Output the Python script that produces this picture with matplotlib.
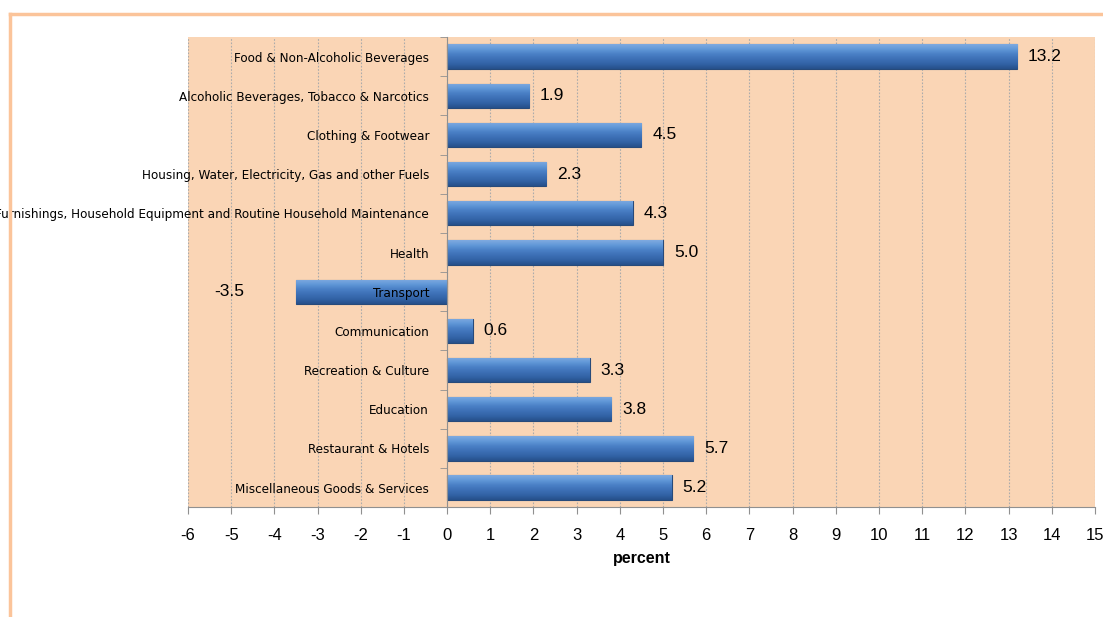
"""Inflation by COICOP group, horizontal bars"""
import numpy as np
import matplotlib
matplotlib.use("Agg")
import matplotlib.pyplot as plt
from matplotlib import font_manager as fm
from matplotlib.lines import Line2D

categories = [
    "Food & Non-Alcoholic Beverages",
    "Alcoholic Beverages, Tobacco & Narcotics",
    "Clothing & Footwear",
    "Housing, Water, Electricity, Gas and other Fuels",
    "Furnishings, Household Equipment and Routine Household Maintenance",
    "Health",
    "Transport",
    "Communication",
    "Recreation & Culture",
    "Education",
    "Restaurant & Hotels",
    "Miscellaneous Goods & Services",
]
values = [13.2, 1.9, 4.5, 2.3, 4.3, 5.0, -3.5, 0.6, 3.3, 3.8, 5.7, 5.2]
x_ticks = list(range(-6, 16))

plt.rcParams['font.family'] = ['Liberation Sans', 'DejaVu Sans']


def narrow_font():
    """look for an installed condensed sans face"""
    picks = []
    for f in fm.fontManager.ttflist:
        st = f.stretch
        cond = ("Narrow" in f.name or "Condensed" in f.name
                or st in ("condensed", "semi-condensed", "extra-condensed")
                or (isinstance(st, int) and st < 500))
        if cond and f.style == "normal" and f.weight in (400, "normal", "regular"):
            picks.append(f)
    picks.sort(key=lambda f: 0 if "Liberation" in f.name else 1)
    return picks[0] if picks else None


nf = narrow_font()
if nf is not None and "Liberation" in nf.name:
    cat_font = fm.FontProperties(fname=nf.fname, size=11.5)
elif nf is not None:
    cat_font = fm.FontProperties(fname=nf.fname, size=9.6)
else:
    cat_font = fm.FontProperties(family="Liberation Sans", size=9.6)

fig = plt.figure(figsize=(11.03, 6.17), dpi=100)
ax = fig.add_axes([0.1704, 0.178, 0.8223, 0.762])
ax.set_facecolor("#FAD5B5")

y = np.arange(len(categories))
bars = ax.barh(y, values, height=0.62, color="#3B6DB3", edgecolor="#274A7A",
               linewidth=0.8, zorder=3)

# bevel-ish gradient on each bar
grad = np.linspace(0, 1, 64).reshape(-1, 1)
cmap = matplotlib.colors.LinearSegmentedColormap.from_list(
    "bev", ["#7FAAE0", "#6198D8", "#4A80C6", "#3D70B6", "#3263A6", "#26508A"])
for b in bars:
    x0, y0 = b.get_x(), b.get_y()
    w, h = b.get_width(), b.get_height()
    im = ax.imshow(grad, aspect="auto", cmap=cmap, zorder=3.5,
                   extent=[min(x0, x0 + w), max(x0, x0 + w), y0 + h, y0],
                   interpolation="bilinear")
    im.set_clip_path(b)

ax.set_xlim(-6, 15)
ax.set_ylim(len(categories) - 0.5, -0.5)
ax.set_xticks(x_ticks)
ax.set_xticklabels([str(t) for t in x_ticks], fontsize=12)
ax.tick_params(axis="x", length=5, color="#909090", pad=10)
ax.grid(axis="x", color="#ABABAB", linestyle=(0, (1.5, 1.5)), linewidth=0.8, zorder=1)

# y axis sits at zero, labels drawn over the bars
ax.spines["left"].set_position(("data", 0))
ax.spines["left"].set_color("#909090")
ax.spines["left"].set_zorder(4)
ax.spines["bottom"].set_color("#909090")
ax.spines["top"].set_visible(False)
ax.spines["right"].set_visible(False)
ax.set_yticks(y)
ax.set_yticklabels(categories)
for lbl in ax.get_yticklabels():
    lbl.set_fontproperties(cat_font)
ax.set_yticks(np.arange(-0.5, len(categories), 1), minor=True)
ax.tick_params(axis="y", which="major", length=0, pad=13)
ax.tick_params(axis="y", which="minor", length=5, color="#909090")
ax.yaxis.set_zorder(5)

for yi, v in zip(y, values):
    if v >= 0:
        ax.text(v + 0.25, yi, f"{v:.1f}", va="center", ha="left", fontsize=12.5)
    else:
        ax.text(v - 1.2, yi, f"{v:.1f}", va="center", ha="right", fontsize=12.5)

ax.set_xlabel("percent", fontweight="bold", fontsize=11.5, labelpad=6)

# outer orange frame (top and left)
fig.add_artist(Line2D([0.009, 1.0], [0.977, 0.977], color="#FBC49A", linewidth=2.5,
                      transform=fig.transFigure))
fig.add_artist(Line2D([0.009, 0.009], [0.0, 0.977], color="#FBC49A", linewidth=2.5,
                      transform=fig.transFigure))

fig.savefig("out.png", dpi=100)
